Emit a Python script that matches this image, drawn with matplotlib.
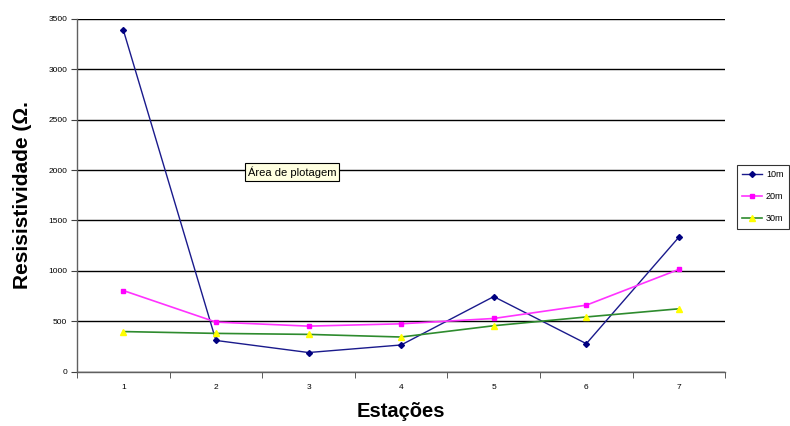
import matplotlib.pyplot as plt
import numpy as np

plt.rcParams['font.family'] = ['Liberation Sans', 'DejaVu Sans']

estacoes = [1, 2, 3, 4, 5, 6, 7]
r10 = [3390, 310, 190, 265, 745, 278, 1335]
r20 = [805, 492, 452, 475, 528, 660, 1015]
r30 = [398, 380, 370, 344, 456, 543, 624]

fig = plt.figure(figsize=(7.9, 4.26), dpi=100)
ax = fig.add_axes([0.0975, 0.1275, 0.8205, 0.8281])

ax.plot(estacoes, r10, color='#1a1a8c', lw=1, marker='D', ms=3, mfc='#000080', mec='#000080', label='10m')
ax.plot(estacoes, r20, color='#ff33ff', lw=1.2, marker='s', ms=3.5, mfc='#ff00ff', mec='#ff00ff', label='20m')
ax.plot(estacoes, r30, color='#2e8b2e', lw=1.2, marker='^', ms=4, mfc='#ffff00', mec='#ffff00', label='30m')

ax.set_xlim(0.5, 7.5)
ax.set_ylim(0, 3500)
ax.set_yticks(np.arange(0, 3501, 500))
ax.set_xticks(estacoes)
ax.set_xticks(np.arange(0.5, 7.6, 1), minor=True)
ax.tick_params(axis='x', which='major', length=0, pad=9, labelsize=6)
ax.tick_params(axis='x', which='minor', length=4, color='#404040', direction='out')
ax.tick_params(axis='y', length=4, color='#404040', direction='out', labelsize=6, pad=3)
ax.yaxis.grid(True, color='black', lw=1)
ax.set_axisbelow(True)

for s in ['top', 'right']:
    ax.spines[s].set_visible(False)
for s in ['left', 'bottom']:
    ax.spines[s].set_color('#606060')
    ax.spines[s].set_linewidth(1)

ax.set_xlabel('Estações', fontsize=14.5, fontweight='bold', labelpad=8)
ax.set_ylabel('Resisistividade (Ω.', fontsize=15, fontweight='bold', labelpad=12)

ax.text(0.263, 0.566, 'Área de plotagem', transform=ax.transAxes, fontsize=8,
        va='center', ha='left',
        bbox=dict(boxstyle='square,pad=0.25', fc='#ffffe1', ec='black', lw=0.8))

leg = fig.legend(loc='upper left', bbox_to_anchor=(0.933, 0.613), fontsize=6.5,
                 frameon=True, fancybox=False, edgecolor='black', handlelength=2.2,
                 borderpad=0.6, labelspacing=1.45, handletextpad=0.4, borderaxespad=0)
leg.get_frame().set_linewidth(0.8)

fig.savefig('out.png', dpi=100)
